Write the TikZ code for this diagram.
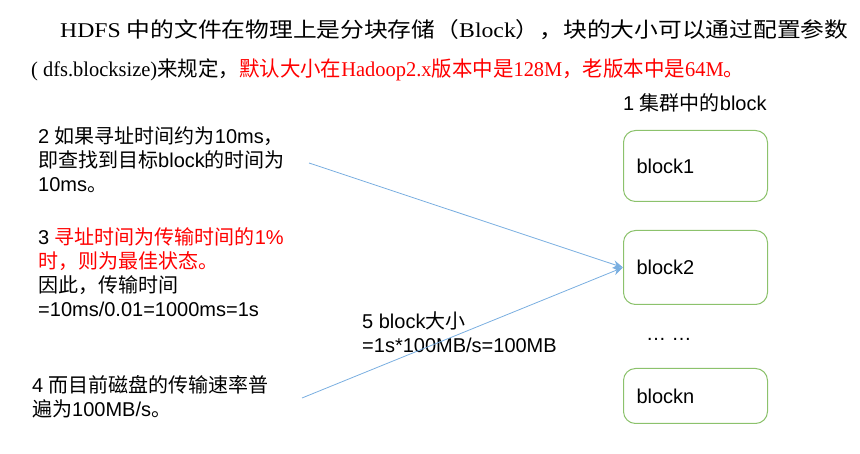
\documentclass[tikz,border=0pt]{standalone}
\usepackage{fontspec}
\setmainfont{Liberation Sans}
\newfontfamily\cjk{Noto Sans CJK SC}
\newfontfamily\tms{Liberation Serif}
\usetikzlibrary{arrows.meta}
\newcommand\zh[1]{{\cjk #1}}
\definecolor{boxgreen}{HTML}{8CC26C}
\definecolor{arrowblue}{HTML}{79AEE0}
\tikzset{
  txt/.style={anchor=base west, inner sep=0pt, font=\fontsize{20}{24}\selectfont},
  title/.style={anchor=base west, inner sep=0pt, font=\fontsize{21}{25}\selectfont},
  blockbox/.style={draw=boxgreen, line width=1pt, rounded corners=12pt, minimum width=144pt,
    text width=118pt, align=left, inner xsep=13pt, anchor=north west, font=\fontsize{20}{24}\selectfont},
  arrowline/.style={draw=arrowblue, line width=0.8pt, -{Stealth[length=10pt,width=8pt]}}
}
\begin{document}
\begin{tikzpicture}[x=1pt,y=-1pt]
\useasboundingbox (0,0) rectangle (860,454);
% title
\node[title] (h1) at (60,38) {\resizebox{788pt}{\height}{{\tms HDFS }\zh{中的文件在物理上是分块存储（}{\tms Block}\zh{），块的大小可以通过配置参数}}};
\node[title] (h2) at (31,77) {\resizebox{713pt}{\height}{{\tms ( dfs.blocksize)}\zh{来规定，}\textcolor{red}{\zh{默认大小在}{\tms Hadoop2.x}\zh{版本中是}{\tms 128M}\zh{，老版本中是}{\tms 64M}\zh{。}}}};
% right column
\node[txt] (hd) at (623,111) {1 \zh{集群中的}block};
\node[blockbox, minimum height=71pt] (b1) at (623,130) {block1};
\node[blockbox, minimum height=74pt] (b2) at (623,230) {block2};
\node[txt] (dots) at (646,341) {… …};
\node[blockbox, minimum height=55pt] (bn) at (623,368) {blockn};
% left texts
\node[txt] (t2a) at (38,144) {2 \zh{如果寻址时间约为}10ms\zh{，}};
\node[txt] (t2b) at (38,168) {\zh{即查找到目标}block\zh{的时间为}};
\node[txt] (t2c) at (38,192) {10ms\zh{。}};
\node[txt] (t3a) at (38,245) {3 \textcolor{red}{\zh{寻址时间为传输时间的}1\%}};
\node[txt] (t3b) at (38,269) {\textcolor{red}{\zh{时，则为最佳状态。}}};
\node[txt] (t3c) at (38,293) {\zh{因此，传输时间}};
\node[txt] (t3d) at (38,317) {=10ms/0.01=1000ms=1s};
\node[txt] (t4a) at (32,393) {4 \zh{而目前磁盘的传输速率普}};
\node[txt] (t4b) at (32,417) {\zh{遍为}100MB/s\zh{。}};
\node[txt] (t5a) at (362,329) {5 block\zh{大小}};
\node[txt] (t5b) at (362,353) {=1s*100MB/s=100MB};
% connectors
\coordinate (s2) at (309,163);
\coordinate (s4) at (302,398);
\draw[arrowline] (s2) -- (b2.west);
\draw[arrowline] (s4) -- (b2.west);
\end{tikzpicture}
\end{document}
